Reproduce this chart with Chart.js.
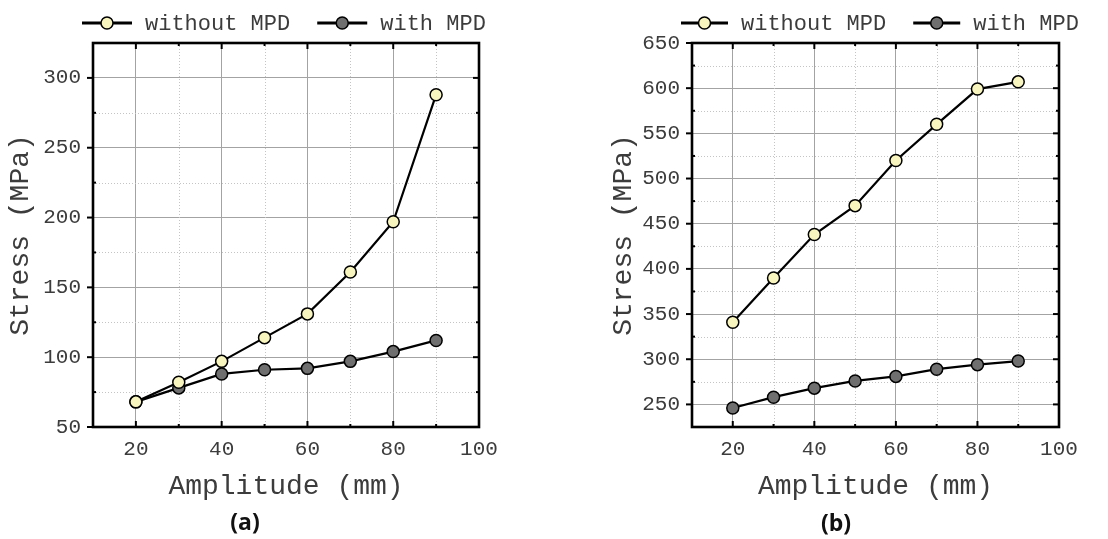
<!DOCTYPE html>
<html>
<head>
<meta charset="utf-8">
<script src="https://cdn.jsdelivr.net/npm/chart.js@4"></script>
<style>
  html, body { margin:0; padding:0; background:#fff; }
  #wrap { position:relative; width:1108px; height:539px; background:#fff; overflow:hidden; }
  .panel { position:absolute; top:0; width:554px; height:539px; }
  .cap { position:absolute; font-family:'Open Sans','Noto Sans',sans-serif; font-weight:700; font-size:23px; line-height:23px; color:#111; transform:translateX(-50%); white-space:nowrap; }
</style>
</head>
<body>
<div id="wrap">
  <div class="panel" style="left:0"><canvas id="chartA" width="554" height="539"></canvas></div>
  <div class="panel" style="left:554px"><canvas id="chartB" width="554" height="539"></canvas></div>
  <div class="cap" style="left:245px; top:510px">(a)</div>
  <div class="cap" style="left:836px; top:511px">(b)</div>
</div>
<script>
// ---- data ----
const amplitude = [20, 30, 40, 50, 60, 70, 80, 90];
const stressA_without = [68, 82, 97, 114, 131, 161, 197, 288];
const stressA_with    = [68, 78, 88, 91, 92, 97, 104, 112];
const stressB_without = [341, 390, 438, 470, 520, 560, 599, 607];
const stressB_with    = [246, 258, 268, 276, 281, 289, 294, 298];
const seriesLabels = ['without MPD', 'with MPD'];
const xTicks = [20, 40, 60, 80, 100];
const xMinorTicks = [30, 50, 70, 90];
const yTicksA = [50, 100, 150, 200, 250, 300];
const yMinorA = [75, 125, 175, 225, 275];
const yTicksB = [250, 300, 350, 400, 450, 500, 550, 600, 650];
const yMinorB = [275, 325, 375, 425, 475, 525, 575, 625];
const xTitle = 'Amplitude (mm)';
const yTitle = 'Stress (MPa)';

const MONO = "'Liberation Mono','Courier New',monospace";
const TEXT = '#3c3c3c';
const FILLS = ['#f9f5be', '#6f6f6f'];
const W = 554, H = 539;

const decor = {
  id: 'decor',
  beforeDatasetsDraw(chart, args, o) {
    const ctx = chart.ctx, a = chart.chartArea, x = chart.scales.x, y = chart.scales.y;
    ctx.save();
    // minor dotted grid
    ctx.strokeStyle = '#c4c4c4'; ctx.lineWidth = 1; ctx.setLineDash([1, 2]);
    o.xMinor.forEach(v => { const p = Math.round(x.getPixelForValue(v)) + 0.5;
      ctx.beginPath(); ctx.moveTo(p, a.top); ctx.lineTo(p, a.bottom); ctx.stroke(); });
    o.yMinor.forEach(v => { const p = Math.round(y.getPixelForValue(v)) + 0.5;
      ctx.beginPath(); ctx.moveTo(a.left, p); ctx.lineTo(a.right, p); ctx.stroke(); });
    ctx.setLineDash([]);
    // tick marks
    ctx.strokeStyle = '#000'; ctx.lineWidth = 2;
    const seg = (x1, y1, x2, y2) => { ctx.beginPath(); ctx.moveTo(x1, y1); ctx.lineTo(x2, y2); ctx.stroke(); };
    xTicks.forEach(v => { const p = x.getPixelForValue(v);
      seg(p, a.bottom, p, a.bottom - 6); seg(p, a.top, p, a.top + 6); });
    o.xMinor.forEach(v => { const p = x.getPixelForValue(v);
      seg(p, a.bottom, p, a.bottom - 3); seg(p, a.top, p, a.top + 3); });
    o.yTicks.forEach(v => { const p = y.getPixelForValue(v);
      seg(a.left - 6, p, a.left, p); seg(a.right, p, a.right - 6, p); });
    o.yMinor.forEach(v => { const p = y.getPixelForValue(v);
      seg(a.left, p, a.left + 3, p); seg(a.right, p, a.right - 3, p); });
    // frame
    ctx.lineWidth = 2.6;
    ctx.strokeRect(a.left, a.top, a.right - a.left, a.bottom - a.top);
    ctx.restore();
  },
  afterDraw(chart, args, o) {
    const ctx = chart.ctx;
    ctx.save();
    ctx.font = '22px ' + MONO;
    ctx.textBaseline = 'middle';
    let cx = o.legendX;
    const ly = o.legendY;
    chart.data.datasets.forEach((ds) => {
      ctx.strokeStyle = '#000'; ctx.lineWidth = 3;
      ctx.beginPath(); ctx.moveTo(cx, ly); ctx.lineTo(cx + o.lineLen, ly); ctx.stroke();
      ctx.beginPath(); ctx.arc(cx + o.lineLen / 2, ly, 6, 0, Math.PI * 2);
      ctx.fillStyle = ds.pointBackgroundColor; ctx.fill();
      ctx.lineWidth = 1.5; ctx.stroke();
      ctx.fillStyle = TEXT;
      const tx = cx + o.lineLen + 13;
      ctx.fillText(ds.label, tx, ly + 1);
      cx = tx + ctx.measureText(ds.label).width + 27;
    });
    ctx.restore();
  }
};

function makeChart(id, withoutData, withData, yMin, yMax, yTicks, yMinor, box, legendX, lineLen, yTitlePad) {
  const mk = (label, data, fill, order) => ({
    label, data: amplitude.map((a, i) => ({ x: a, y: data[i] })),
    borderColor: '#000', borderWidth: 2.2, pointRadius: 6, pointHoverRadius: 6,
    pointBorderWidth: 1.5, pointBorderColor: '#000', pointBackgroundColor: fill,
    tension: 0, fill: false, order, clip: false
  });
  return new Chart(document.getElementById(id), {
    type: 'line',
    data: { datasets: [ mk(seriesLabels[0], withoutData, FILLS[0], 0), mk(seriesLabels[1], withData, FILLS[1], 1) ] },
    options: {
      responsive: false, animation: false, events: [],
      layout: { padding: { left: 0, top: box.T, right: W - box.R, bottom: 0 } },
      plugins: {
        legend: { display: false }, tooltip: { enabled: false },
        decor: { xMinor: xMinorTicks, yMinor, yTicks, legendX, legendY: 23, lineLen }
      },
      scales: {
        x: {
          type: 'linear', min: 10, max: 100,
          afterBuildTicks: s => { s.ticks = xTicks.map(v => ({ value: v })); },
          afterFit: s => { s.height = H - box.B; },
          grid: { color: '#a3a3a3', lineWidth: 1, drawTicks: false },
          border: { display: false },
          ticks: { font: { family: MONO, size: 21 }, color: TEXT, padding: 10, maxRotation: 0, autoSkip: false },
          title: { display: true, text: xTitle, font: { family: MONO, size: 28 }, color: TEXT, padding: { top: 0, bottom: 36 } }
        },
        y: {
          type: 'linear', min: yMin, max: yMax,
          afterBuildTicks: s => { s.ticks = yTicks.map(v => ({ value: v })); },
          afterFit: s => { s.width = box.L; },
          grid: { color: '#a3a3a3', lineWidth: 1, drawTicks: false },
          border: { display: false },
          ticks: { font: { family: MONO, size: 21 }, color: TEXT, padding: 12, autoSkip: false },
          title: { display: true, text: yTitle, font: { family: MONO, size: 28 }, color: TEXT, padding: { top: yTitlePad, bottom: 0 } }
        }
      }
    },
    plugins: [decor]
  });
}

makeChart('chartA', stressA_without, stressA_with, 50, 325, yTicksA, yMinorA,
  { L: 93, R: 479, T: 43, B: 427 }, 82, 50, 4);
makeChart('chartB', stressB_without, stressB_with, 225, 650, yTicksB, yMinorB,
  { L: 138, R: 505, T: 43, B: 427 }, 127, 47, 53);
</script>
</body>
</html>
